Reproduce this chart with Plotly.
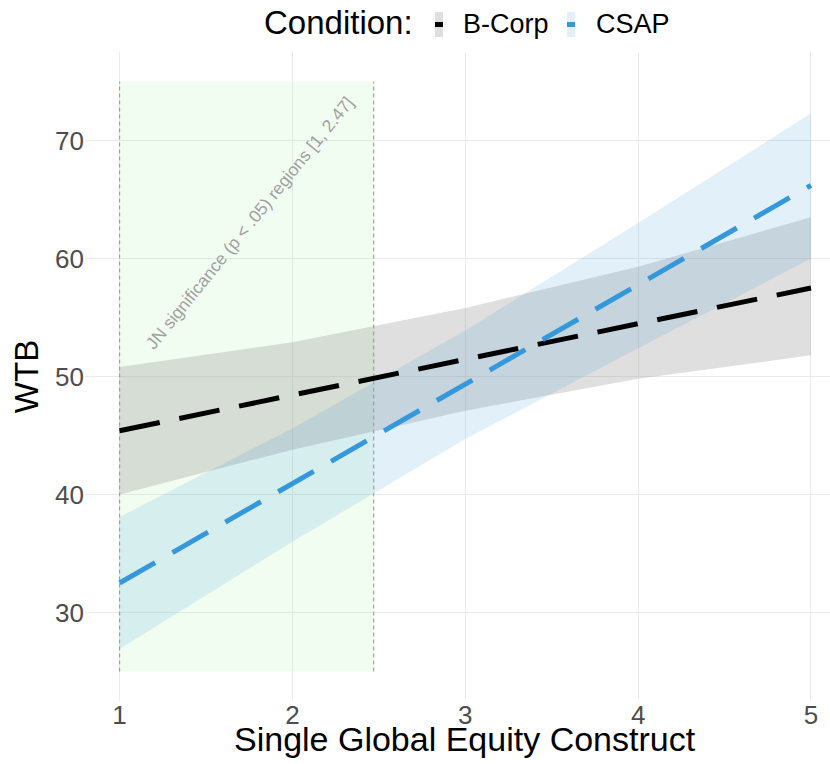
import plotly.graph_objects as go

# ---------------- data ----------------
x_vals = [1, 2, 3, 4, 5]

bcorp_mean = [45.4, 48.4, 51.5, 54.5, 57.5]
bcorp_lo = [40.0, 43.8, 47.1, 49.8, 51.8]
bcorp_hi = [50.8, 52.9, 55.8, 59.3, 63.5]

csap_mean = [32.5, 40.9, 49.3, 57.8, 66.2]
csap_lo = [26.9, 36.0, 44.7, 52.4, 60.0]
csap_hi = [38.1, 45.6, 53.9, 63.0, 72.3]

jn_low, jn_high = 1, 2.47
jn_ymin, jn_ymax = 25, 75
jn_label = "JN significance (p < .05) regions [1, 2.47]"

x_ticks = [1, 2, 3, 4, 5]
y_ticks = [30, 40, 50, 60, 70]

series_names = ["B-Corp", "CSAP"]
x_title = "Single Global Equity Construct"
y_title = "WTB"

# ---------------- styles ----------------
FONT = "Liberation Sans, Arial, sans-serif"
BLACK = "#000000"
BLUE = "#3498DB"
GRAY_FILL = "rgba(128,128,128,0.25)"
BLUE_FILL = "rgba(52,152,219,0.14)"
GREEN_FILL = "rgba(144,238,144,0.12)"
W, H = 830, 764
ML, MR, MT, MB = 85, 0, 52, 63


def px_x(px):
    return (px - ML) / (W - ML - MR)


def px_y(py):
    return (H - MB - py) / (H - MT - MB)


fig = go.Figure()

# JN region (drawn as a filled trace below everything else)
fig.add_trace(go.Scatter(
    x=[jn_low, jn_high, jn_high, jn_low, jn_low],
    y=[jn_ymin, jn_ymin, jn_ymax, jn_ymax, jn_ymin],
    fill="toself", fillcolor=GREEN_FILL, mode="lines",
    line=dict(width=0), hoverinfo="skip", showlegend=False))

# confidence bands
for lo, hi, fc in [(bcorp_lo, bcorp_hi, GRAY_FILL), (csap_lo, csap_hi, BLUE_FILL)]:
    fig.add_trace(go.Scatter(x=x_vals, y=lo, mode="lines", line=dict(width=0),
                             hoverinfo="skip", showlegend=False))
    fig.add_trace(go.Scatter(x=x_vals, y=hi, mode="lines", line=dict(width=0),
                             fill="tonexty", fillcolor=fc, hoverinfo="skip",
                             showlegend=False))

# JN boundary lines
for xv in [jn_low, jn_high]:
    fig.add_trace(go.Scatter(x=[xv, xv], y=[jn_ymin, jn_ymax], mode="lines",
                             line=dict(color="#A0A0A0", width=1.2, dash="4px,3px"),
                             hoverinfo="skip", showlegend=False))

# mean lines
fig.add_trace(go.Scatter(x=x_vals, y=bcorp_mean, mode="lines", name=series_names[0],
                         line=dict(color=BLACK, width=5, dash="41px,20px"),
                         showlegend=False))
fig.add_trace(go.Scatter(x=x_vals, y=csap_mean, mode="lines", name=series_names[1],
                         line=dict(color=BLUE, width=5, dash="41px,20px"),
                         showlegend=False))

annotations = [
    dict(x=1.751, y=63.05, xref="x", yref="y", text=jn_label, showarrow=False,
         textangle=-51, font=dict(family=FONT, size=17.5, color="#A0A0A0")),
    # x-axis title
    dict(x=px_x(465), y=px_y(739), xref="paper", yref="paper", text=x_title,
         showarrow=False, xanchor="center", yanchor="middle",
         font=dict(family=FONT, size=34, color=BLACK)),
    # legend
    dict(x=px_x(262), y=px_y(22), xref="paper", yref="paper", text="Condition:",
         showarrow=False, xanchor="left", yanchor="middle",
         font=dict(family=FONT, size=33, color=BLACK)),
    dict(x=px_x(461), y=px_y(24), xref="paper", yref="paper", text=series_names[0],
         showarrow=False, xanchor="left", yanchor="middle",
         font=dict(family=FONT, size=27, color=BLACK)),
    dict(x=px_x(594), y=px_y(24), xref="paper", yref="paper", text=series_names[1],
         showarrow=False, xanchor="left", yanchor="middle",
         font=dict(family=FONT, size=27, color=BLACK)),
]

shapes = []
for x0, fill, col in [(435, "rgba(128,128,128,0.25)", BLACK), (567, BLUE_FILL, BLUE)]:
    shapes.append(dict(type="rect", xref="paper", yref="paper",
                       x0=px_x(x0), x1=px_x(x0 + 8), y0=px_y(37), y1=px_y(12),
                       fillcolor=fill, line=dict(width=0)))
    shapes.append(dict(type="rect", xref="paper", yref="paper",
                       x0=px_x(x0), x1=px_x(x0 + 8), y0=px_y(27), y1=px_y(22),
                       fillcolor=col, line=dict(width=0)))

fig.update_layout(
    width=W, height=H,
    margin=dict(l=ML, r=MR, t=MT, b=MB, autoexpand=False),
    paper_bgcolor="white", plot_bgcolor="white",
    font=dict(family=FONT),
    showlegend=False,
    annotations=annotations,
    shapes=shapes,
    xaxis=dict(range=[0.8, 5.11], tickvals=x_ticks, ticktext=[str(v) for v in x_ticks],
               showgrid=True, gridcolor="#EBEBEB", gridwidth=1, zeroline=False,
               showline=False, ticks="", ticklabelstandoff=-4,
               tickfont=dict(family=FONT, size=26, color="#4D4D4D"),
               automargin=False, fixedrange=True),
    yaxis=dict(range=[22.5, 77.5], tickvals=y_ticks, ticktext=[str(v) for v in y_ticks],
               showgrid=True, gridcolor="#EBEBEB", gridwidth=1, zeroline=False,
               showline=False, ticks="", tickfont=dict(family=FONT, size=26, color="#4D4D4D"),
               title=dict(text=y_title, standoff=6,
                          font=dict(family=FONT, size=33, color=BLACK)),
               automargin=False, fixedrange=True),
)

fig.write_html("out.html", config={"displayModeBar": False},
               post_script="document.body.style.margin='0';document.body.style.overflow='hidden';")
